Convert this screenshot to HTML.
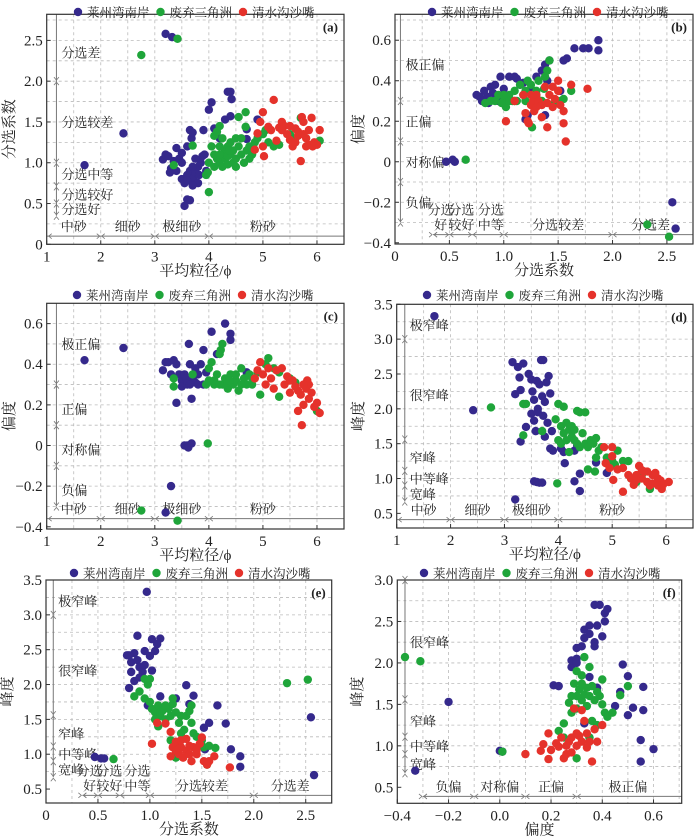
<!DOCTYPE html>
<html><head><meta charset="utf-8"><style>
html,body{margin:0;padding:0;background:#fff;}
svg{display:block;}
text{font-family:"Liberation Serif","Noto Serif CJK SC",serif;fill:#222;}
</style></head><body>
<svg id="fig" width="700" height="840" viewBox="0 0 700 840" xmlns="http://www.w3.org/2000/svg"></svg>
<script>
// ---- data (x,y pairs) ----
const aBlue=[[1.7,0.97],[2.42,1.36],[3.2,2.58],[3.32,2.54],[3.15,1.04],[3.2,1.1],[3.25,1.08],[3.28,0.88],[3.3,0.93],[3.35,1.02],[3.4,1.18],[3.45,1.05],[3.5,1.12],[3.5,0.8],[3.55,0.75],[3.55,0.47],[3.6,0.55],[3.65,0.54],[3.6,0.85],[3.65,0.9],[3.7,0.78],[3.72,0.82],[3.75,0.88],[3.65,1.4],[3.68,1.3],[3.7,1.37],[3.8,0.95],[3.82,0.85],[3.85,1.0],[3.88,1.08],[3.9,1.4],[3.92,1.1],[3.75,1.05],[3.6,1.2],[3.95,0.9],[4.0,1.65],[4.05,1.74],[4.1,1.42],[4.2,1.3],[4.3,1.53],[4.35,1.87],[4.4,1.87],[4.42,1.78],[4.4,1.57],[4.7,1.41],[4.9,1.53],[4.7,1.29],[3.4,0.9],[3.5,1.0],[3.7,0.95],[3.8,0.75],[3.6,0.78],[3.7,0.72]];
const aGreen=[[2.75,2.32],[3.42,2.52],[3.35,0.97],[3.7,1.21],[3.95,0.85],[3.98,0.88],[4.0,0.64],[4.0,1.0],[4.05,1.2],[4.1,1.33],[4.15,1.38],[4.2,1.45],[4.1,1.1],[4.2,1.0],[4.25,0.95],[4.3,1.15],[4.3,1.05],[4.35,1.2],[4.4,1.1],[4.45,1.0],[4.5,1.3],[4.45,1.15],[4.5,1.05],[4.55,1.2],[4.6,1.1],[4.65,1.0],[4.55,1.56],[4.68,1.62],[4.68,1.44],[4.7,1.15],[4.75,1.2],[4.8,1.1],[4.85,1.25],[4.9,1.3],[5.0,1.35],[5.05,1.4],[5.1,1.25],[5.2,1.2],[5.3,1.22],[5.5,1.35],[5.6,1.3],[5.7,1.55],[6.05,1.27],[4.2,1.2],[4.35,0.98],[4.25,1.3],[4.1,0.95],[4.4,1.25],[4.6,1.3],[4.3,1.1],[4.15,1.05],[4.5,0.95],[4.75,1.05],[4.2,1.1],[4.35,1.08],[4.38,1.15]];
const aRed=[[4.85,1.16],[4.9,1.36],[4.95,1.5],[5.0,1.62],[5.0,1.2],[5.02,1.08],[5.1,1.44],[5.15,1.4],[5.2,1.77],[5.25,1.27],[5.3,1.43],[5.35,1.5],[5.4,1.45],[5.45,1.35],[5.5,1.28],[5.55,1.2],[5.6,1.42],[5.65,1.33],[5.7,1.02],[5.72,1.56],[5.75,1.5],[5.8,1.3],[5.85,1.22],[5.9,1.55],[5.92,1.2],[5.95,1.25],[6.0,1.22],[6.05,1.4],[5.5,1.45],[5.35,1.4],[5.6,1.25],[5.75,1.35],[5.85,1.4],[5.65,1.38],[5.8,1.2]];
const bBlue=[[0.47,0],[0.53,0.01],[0.55,0],[0.75,0.33],[0.8,0.3],[0.82,0.35],[0.85,0.32],[0.88,0.37],[0.9,0.34],[0.92,0.38],[0.95,0.3],[0.97,0.42],[1.0,0.36],[1.05,0.42],[1.1,0.42],[1.12,0.41],[1.18,0.39],[1.2,0.21],[1.22,0.23],[1.3,0.42],[1.35,0.45],[1.38,0.48],[1.42,0.5],[1.38,0.23],[1.4,0.4],[1.52,0.35],[1.55,0.5],[1.58,0.51],[1.65,0.56],[1.73,0.56],[1.78,0.56],[1.87,0.6],[1.87,0.55],[2.55,-0.2],[2.58,-0.33],[0.78,0.32],[0.86,0.29],[0.93,0.31],[1.15,0.38],[1.25,0.36]];
const bGreen=[[0.65,0.01],[0.83,0.29],[0.88,0.3],[0.92,0.3],[0.95,0.33],[1.0,0.3],[1.02,0.27],[1.05,0.33],[1.08,0.3],[1.1,0.35],[1.12,0.3],[1.15,0.38],[1.18,0.33],[1.2,0.35],[1.22,0.4],[1.25,0.38],[1.28,0.3],[1.3,0.35],[1.32,0.4],[1.35,0.3],[1.38,0.42],[1.4,0.45],[1.42,0.5],[1.45,0.28],[1.5,0.3],[1.55,0.31],[1.62,0.35],[1.26,0.17],[2.32,-0.31],[2.52,-0.37],[1.0,0.33],[1.1,0.3],[1.2,0.3],[1.3,0.32],[1.37,0.36],[1.05,0.3],[0.98,0.29]];
const bRed=[[1.02,0.2],[1.1,0.3],[1.18,0.33],[1.2,0.24],[1.22,0.2],[1.23,0.19],[1.25,0.28],[1.27,0.3],[1.28,0.25],[1.3,0.33],[1.32,0.3],[1.35,0.22],[1.35,0.28],[1.38,0.37],[1.4,0.17],[1.42,0.33],[1.45,0.37],[1.47,0.31],[1.5,0.4],[1.5,0.35],[1.52,0.28],[1.55,0.25],[1.55,0.19],[1.57,0.1],[1.62,0.38],[1.77,0.36],[1.25,0.33],[1.4,0.29],[1.45,0.27],[1.3,0.27]];
const cBlue=[[1.7,0.42],[2.42,0.48],[3.3,-0.2],[3.2,-0.33],[3.15,0.37],[3.2,0.41],[3.25,0.41],[3.3,0.35],[3.35,0.42],[3.4,0.4],[3.4,0.21],[3.45,0.35],[3.5,0.32],[3.5,0.29],[3.55,0.35],[3.55,0],[3.6,0],[3.62,-0.01],[3.68,0.01],[3.6,0.3],[3.63,0.5],[3.65,0.4],[3.68,0.23],[3.7,0.33],[3.75,0.31],[3.8,0.35],[3.85,0.4],[3.9,0.47],[3.9,0.3],[3.95,0.36],[4.05,0.56],[4.15,0.45],[4.3,0.6],[4.4,0.55],[4.4,0.52],[4.7,0.36],[3.75,0.38],[3.58,0.33],[3.65,0.3],[3.8,0.3]];
const cGreen=[[2.75,-0.32],[3.35,0.33],[3.35,0.29],[3.42,-0.37],[3.7,0.35],[3.98,0.01],[3.95,0.3],[4.0,0.38],[4.05,0.41],[4.1,0.32],[4.15,0.35],[4.2,0.45],[4.22,0.47],[4.25,0.5],[4.25,0.3],[4.3,0.33],[4.35,0.28],[4.4,0.35],[4.45,0.3],[4.5,0.32],[4.55,0.27],[4.6,0.38],[4.65,0.33],[4.7,0.3],[4.75,0.35],[4.8,0.33],[4.9,0.36],[4.95,0.25],[5.05,0.4],[5.1,0.43],[5.2,0.38],[5.3,0.36],[5.3,0.24],[5.5,0.33],[5.6,0.31],[6.0,0.17],[4.1,0.3],[4.3,0.3],[4.5,0.35],[4.6,0.3],[4.0,0.32],[4.2,0.3],[4.38,0.32],[4.8,0.3]];
const cRed=[[4.85,0.33],[4.9,0.37],[4.95,0.41],[5.0,0.35],[5.05,0.3],[5.1,0.38],[5.15,0.33],[5.2,0.28],[5.25,0.37],[5.35,0.38],[5.4,0.3],[5.45,0.34],[5.5,0.26],[5.55,0.32],[5.6,0.29],[5.65,0.17],[5.7,0.25],[5.72,0.1],[5.75,0.2],[5.8,0.28],[5.82,0.32],[5.85,0.3],[5.85,0.23],[5.9,0.26],[5.95,0.19],[6.0,0.21],[6.05,0.16],[5.5,0.32],[5.65,0.27],[5.75,0.3]];
const dBlue=[[1.7,3.33],[2.42,1.98],[3.15,2.67],[3.25,2.6],[3.28,2.45],[3.35,2.65],[3.2,2.21],[3.3,2.27],[3.3,1.53],[3.4,1.74],[3.45,2.5],[3.5,2.42],[3.52,2.25],[3.55,2.13],[3.5,1.93],[3.55,1.83],[3.58,1.68],[3.6,2.4],[3.62,2.0],[3.65,2.35],[3.68,2.7],[3.72,2.7],[3.7,2.18],[3.72,1.9],[3.75,2.1],[3.78,2.38],[3.8,1.8],[3.82,2.47],[3.85,2.22],[3.88,1.68],[3.85,1.43],[3.9,1.4],[4.05,1.43],[4.1,1.38],[4.12,1.22],[4.3,1.4],[4.35,1.47],[3.55,0.96],[3.6,0.95],[3.65,0.94],[3.7,0.94],[3.2,0.7],[4.3,0.96],[4.4,1.07],[4.4,0.82],[4.7,1.23],[4.9,1.08],[3.62,1.95],[3.75,1.6]];
const dGreen=[[2.75,2.02],[3.35,2.07],[3.4,2.07],[3.35,1.62],[3.7,1.68],[3.98,0.93],[3.95,1.85],[4.0,2.07],[4.05,1.75],[4.1,2.03],[4.0,1.55],[4.05,1.5],[4.1,1.65],[4.15,1.8],[4.2,1.7],[4.2,1.38],[4.25,1.6],[4.3,1.55],[4.35,1.5],[4.35,1.97],[4.4,1.95],[4.5,1.95],[4.45,1.65],[4.5,1.5],[4.55,1.45],[4.6,1.55],[4.65,1.5],[4.7,1.58],[4.7,1.3],[4.75,1.4],[4.55,1.13],[4.68,1.1],[4.9,1.3],[5.0,1.25],[5.05,1.2],[5.1,1.4],[5.2,1.25],[5.3,1.25],[5.35,1.0],[5.45,0.95],[5.55,1.05],[5.7,0.85],[4.25,1.75],[4.15,1.55],[4.4,1.45],[4.8,1.45],[4.3,1.7]];
const dRed=[[4.85,1.45],[4.88,1.22],[4.95,1.15],[5.0,1.45],[5.0,1.32],[5.02,0.98],[5.1,1.13],[5.2,1.15],[5.2,0.81],[5.3,1.05],[5.35,1.0],[5.4,0.91],[5.45,1.05],[5.5,1.18],[5.55,1.0],[5.6,1.1],[5.65,0.95],[5.7,0.9],[5.75,1.05],[5.8,1.08],[5.85,1.0],[5.9,0.97],[5.92,0.85],[5.95,0.92],[6.05,0.95],[5.65,1.1],[5.75,0.93],[5.55,1.12],[5.85,0.9],[5.45,0.98]];
const eBlue=[[0.47,0.96],[0.53,0.94],[0.56,0.94],[0.97,3.33],[0.88,2.7],[1.02,2.65],[1.1,2.66],[1.07,2.58],[1.05,2.48],[1.0,2.41],[0.95,2.48],[0.85,2.45],[0.8,2.42],[0.78,2.42],[0.82,2.32],[0.88,2.35],[0.9,2.25],[0.93,2.18],[0.95,2.28],[0.82,2.18],[0.85,2.05],[0.8,1.95],[0.9,2.1],[1.02,2.2],[0.98,1.7],[1.1,1.83],[1.25,1.8],[1.35,1.99],[1.38,1.72],[1.42,1.84],[1.52,1.38],[1.57,1.45],[1.65,1.7],[1.73,1.44],[1.78,1.07],[1.87,0.97],[1.87,0.82],[2.55,1.53],[2.58,0.7],[1.53,1.07]];
const eGreen=[[0.65,0.93],[0.85,1.83],[0.9,1.9],[0.95,2.08],[0.98,2.0],[1.0,2.08],[0.95,1.8],[1.0,1.75],[1.02,1.65],[1.05,1.6],[1.08,1.7],[1.1,1.55],[1.12,1.62],[1.15,1.5],[1.18,1.65],[1.2,1.55],[1.22,1.72],[1.25,1.6],[1.22,1.8],[1.28,1.45],[1.3,1.3],[1.33,1.35],[1.35,1.55],[1.38,1.62],[1.4,1.7],[1.42,1.3],[1.45,1.25],[1.5,1.2],[1.52,1.1],[1.55,0.85],[1.57,1.12],[1.63,1.09],[1.08,1.4],[1.2,1.2],[1.25,0.95],[2.32,2.02],[2.52,2.07],[1.1,1.6],[1.15,1.7],[1.3,1.55],[1.05,1.5],[1.4,1.45]];
const eRed=[[1.02,1.15],[1.07,1.45],[1.15,1.44],[1.2,1.32],[1.2,0.97],[1.22,1.1],[1.25,1.05],[1.25,1.18],[1.28,1.0],[1.3,1.1],[1.32,0.95],[1.35,1.05],[1.35,1.22],[1.38,1.0],[1.4,0.9],[1.42,1.1],[1.45,1.0],[1.48,1.15],[1.5,1.24],[1.52,0.9],[1.55,0.85],[1.57,0.9],[1.62,0.97],[1.77,0.81],[1.45,1.06],[1.3,1.2],[1.38,1.12],[1.28,1.08]];
const fBlue=[[-0.33,0.7],[-0.2,1.53],[0,0.94],[0.01,0.93],[0.21,1.73],[0.23,1.72],[0.28,1.95],[0.28,2.03],[0.3,2.05],[0.3,2.18],[0.32,2.2],[0.33,2.3],[0.33,2.4],[0.35,2.45],[0.35,2.35],[0.37,2.25],[0.37,2.2],[0.38,2.45],[0.37,2.7],[0.39,2.7],[0.41,2.6],[0.42,2.65],[0.41,2.5],[0.4,2.32],[0.35,1.83],[0.38,1.7],[0.45,1.48],[0.47,1.65],[0.48,1.98],[0.5,1.84],[0.5,1.37],[0.52,1.46],[0.56,1.71],[0.56,1.43],[0.55,1.07],[0.55,0.81],[0.6,0.96],[0.33,1.27],[0.35,1.1],[0.3,2.0]];
const fGreen=[[-0.37,2.07],[-0.31,2.02],[0.01,0.93],[0.23,1.18],[0.25,1.27],[0.27,1.52],[0.28,1.4],[0.28,1.6],[0.29,1.75],[0.3,1.9],[0.3,1.45],[0.31,1.68],[0.32,1.55],[0.32,1.85],[0.33,1.62],[0.33,2.07],[0.34,1.7],[0.34,1.48],[0.35,1.6],[0.35,1.95],[0.36,1.3],[0.37,1.55],[0.38,1.65],[0.38,1.25],[0.39,1.6],[0.4,1.8],[0.41,1.4],[0.42,1.35],[0.44,1.4],[0.47,1.61],[0.5,1.72],[0.3,0.85],[0.35,1.1],[0.25,1.1],[0.4,1.5],[0.3,1.6],[0.32,1.75],[0.36,1.72]];
const fRed=[[0.1,0.9],[0.16,0.94],[0.17,1.02],[0.19,1.15],[0.19,0.84],[0.2,0.95],[0.22,1.03],[0.23,0.99],[0.24,1.1],[0.25,0.85],[0.26,0.9],[0.27,1.05],[0.28,0.92],[0.28,1.1],[0.29,1.45],[0.3,1.0],[0.31,1.12],[0.32,1.05],[0.32,1.43],[0.33,1.3],[0.34,0.98],[0.35,1.05],[0.36,0.81],[0.37,1.2],[0.38,1.05],[0.4,1.25],[0.3,1.15],[0.26,1.0],[0.34,1.15]];
const seriesNames=["莱州湾南岸","废弃三角洲","清水沟沙嘴"];
const meanTicks=[1,2,3,4,5,6];
const sortTicks=[0,0.5,1.0,1.5,2.0,2.5];
const sortTickLabels=["0","0.5","1.0","1.5","2.0","2.5"];
const skewYTicks=[-0.4,-0.2,0,0.2,0.4,0.6];
const skewYLabels=["−0.4","−0.2","0","0.2","0.4","0.6"];
const kurtTicks=[0.5,1.0,1.5,2.0,2.5,3.0,3.5];
const kurtLabels=["0.5","1.0","1.5","2.0","2.5","3.0","3.5"];
const sortYTicks=[0,0.5,1.0,1.5,2.0,2.5];
const skewXTicks=[-0.4,-0.2,0,0.2,0.4,0.6];
const skewXLabels=["−0.4","−0.2","0.0","0.2","0.4","0.6"];
// class boundaries
const sizeBounds=[2,3,4], sizeNames=["中砂","细砂","极细砂","粉砂"], sizeNameX=[1.5,2.5,3.5,5.0];
const sortBounds=[0.35,0.5,0.71,1.0,2.0];
const sortYBounds=[0.35,0.5,0.71,1.0,2.0];
const sortYNames=["分选好","分选较好","分选中等","分选较差","分选差"], sortYNamePos=[0.43,0.61,0.86,1.5,2.35];
const skewBounds=[-0.3,-0.1,0.1,0.3], skewNames=["负偏","对称偏","正偏","极正偏"];
const kurtBounds=[0.67,0.9,1.11,1.56,3.0], kurtNames=["宽峰","中等峰","窄峰","很窄峰","极窄峰"], kurtNamePos=[0.78,1.0,1.3,2.2,3.2];
const colors=["#35298c","#1fa53a","#e5322b"];

const NS="http://www.w3.org/2000/svg", svg=document.getElementById('fig');
function el(tag,attrs,parent){const e=document.createElementNS(NS,tag);for(const k in attrs)e.setAttribute(k,attrs[k]);(parent||svg).appendChild(e);return e;}
function txt(s,x,y,size,anchor,parent,name){const t=el('text',{x:x,y:y,'font-size':size,'text-anchor':anchor||'middle'},parent);t.textContent=s;


return t;}

function panel(cfg){
  const g=el('g',{});
  
  
  const X=v=>cfg.L+(v-cfg.x0)/(cfg.x1-cfg.x0)*(cfg.R-cfg.L);
  const Y=v=>cfg.B-(v-cfg.y0)/(cfg.y1-cfg.y0)*(cfg.B-cfg.T);
  for(let v=cfg.gx0;v<cfg.x1-1e-6;v+=cfg.gxs){const gl=el('line',{x1:X(v),x2:X(v),y1:cfg.T,y2:cfg.B,stroke:'#bbb','stroke-dasharray':'3,3','stroke-width':0.8},g);
    
    }
  for(let v=cfg.gy0;v<cfg.y1-1e-6;v+=cfg.gys){const gl=el('line',{x1:cfg.L,x2:cfg.R,y1:Y(v),y2:Y(v),stroke:'#bbb','stroke-dasharray':'3,3','stroke-width':0.8},g);
    
    }
  const va=cfg.vAnn, ax=X(va.x);
  const vl=el('line',{x1:ax,x2:ax,y1:Y(va.top),y2:Y(va.bounds[0]),stroke:'#777','stroke-width':1},g);
  
  
  va.bounds.forEach(b=>{const y=Y(b);el('path',{d:`M${ax-2.5},${y-4}L${ax},${y-1}L${ax+2.5},${y-4}M${ax-2.5},${y+4}L${ax},${y+1}L${ax+2.5},${y+4}`,stroke:'#777',fill:'none','stroke-width':0.8},g);});
  va.names.forEach((n,i)=>txt(n,ax+5,Y(va.pos[i])+5,13,'start',g,'class-label'));
  const ha=cfg.hAnn, ay=Y(ha.y);
  const hl=el('line',{x1:X(ha.from),x2:cfg.R,y1:ay,y2:ay,stroke:'#777','stroke-width':1},g);
  
  
  ha.bounds.forEach(b=>{const x=X(b);el('path',{d:`M${x-4},${ay-2.5}L${x-1},${ay}L${x-4},${ay+2.5}M${x+4},${ay-2.5}L${x+1},${ay}L${x+4},${ay+2.5}`,stroke:'#777',fill:'none','stroke-width':0.8},g);});
  {const x=X(ha.from)+(ha.from>cfg.x0?0:1);el('path',{d:`M${x+4},${ay-2.5}L${x+1},${ay}L${x+4},${ay+2.5}`,stroke:'#777',fill:'none','stroke-width':0.8},g);}
  ha.names.forEach((n,i)=>{
    const lines=n.split('|');
    lines.forEach((s,j)=>txt(s,X(ha.pos[i]),ay-5-(lines.length-1-j)*15,13,'middle',g,'class-label'));
  });
  cfg.series.forEach((s,si)=>s.forEach(p=>{const c=el('circle',{cx:X(p[0]),cy:Y(p[1]),r:4.2,fill:colors[si]},g);
    
    }));
  const fr=el('rect',{x:cfg.L,y:cfg.T,width:cfg.R-cfg.L,height:cfg.B-cfg.T,fill:'none',stroke:'#333','stroke-width':1.2},g);
  
  
  cfg.xt.forEach((v,i)=>{const x=X(v);el('line',{x1:x,x2:x,y1:cfg.B,y2:cfg.B-4,stroke:'#333'},g);txt(cfg.xtl[i],x,cfg.B+17,15,'middle',g,'x-tick-label');});
  cfg.yt.forEach((v,i)=>{const y=Y(v);el('line',{x1:cfg.L,x2:cfg.L+4,y1:y,y2:y,stroke:'#333'},g);txt(cfg.ytl[i],cfg.L-4,y+5,15,'end',g,'y-tick-label');});
  txt(cfg.xTitle,(cfg.L+cfg.R)/2,cfg.B+31,15,'middle',g,'x-axis-title');
  const yt=txt(cfg.yTitle,0,0,15,'middle',g,'y-axis-title');
  yt.setAttribute('transform',`translate(${cfg.ytx},${(cfg.T+cfg.B)/2}) rotate(-90)`);
  const pl=txt('('+cfg.id+')',cfg.R-6,cfg.T+17,13,'end',g,'panel-label');pl.setAttribute('font-weight','bold');
  const lg=el('g',{},g);
  
  
  const lx=cfg.legX, ly=cfg.legY;
  seriesNames.forEach((n,i)=>{const x=lx+i*82.5;el('circle',{cx:x,cy:ly,r:4.2,fill:colors[i]},lg);txt(n,x+9,ly+5,12.5,'start',lg,'legend-entry');});
}
const fmt=a=>a.map(v=>String(v));
panel({id:'a',L:46.7,R:344,T:14.3,B:244.3,x0:1,x1:6.5,y0:0,y1:2.82,gx0:1.5,gxs:0.5,gy0:0.25,gys:0.25,
  series:[aBlue,aGreen,aRed],xt:meanTicks,xtl:fmt(meanTicks),yt:sortYTicks,ytl:["0","0.5","1.0","1.5","2.0","2.5"],
  xTitle:"平均粒径/ϕ",yTitle:"分选系数",ytx:14,legX:78,legY:12,
  vAnn:{x:1.18,top:2.82,bounds:sortYBounds,names:sortYNames,pos:sortYNamePos},
  hAnn:{y:0.1,from:1,bounds:sizeBounds,names:sizeNames,pos:sizeNameX}});
panel({id:'b',L:395,R:693,T:14.3,B:244,x0:0,x1:2.74,y0:-0.406,y1:0.728,gx0:0.25,gxs:0.25,gy0:-0.3,gys:0.1,
  series:[bBlue,bGreen,bRed],xt:sortTicks,xtl:sortTickLabels,yt:skewYTicks,ytl:skewYLabels,
  xTitle:"分选系数",yTitle:"偏度",ytx:363,legX:432,legY:12,
  vAnn:{x:0.05,top:0.728,bounds:skewBounds,names:skewNames,pos:[-0.2,0,0.2,0.48]},
  hAnn:{y:-0.36,from:0.35,bounds:sortBounds,names:["分选|好","分选|较好","分选|中等","分选较差","分选差"],pos:[0.42,0.61,0.88,1.5,2.35]}});
panel({id:'c',L:46.7,R:344,T:303.3,B:529,x0:1,x1:6.5,y0:-0.411,y1:0.70,gx0:1.5,gxs:0.5,gy0:-0.3,gys:0.1,
  series:[cBlue,cGreen,cRed],xt:meanTicks,xtl:fmt(meanTicks),yt:skewYTicks,ytl:skewYLabels,
  xTitle:"平均粒径/ϕ",yTitle:"偏度",ytx:14,legX:77,legY:295,
  vAnn:{x:1.18,top:0.70,bounds:skewBounds,names:skewNames,pos:[-0.22,-0.02,0.18,0.5]},
  hAnn:{y:-0.36,from:1,bounds:sizeBounds,names:sizeNames,pos:sizeNameX}});
panel({id:'d',L:396.7,R:693,T:304.3,B:528,x0:1,x1:6.5,y0:0.29,y1:3.5,gx0:1.5,gxs:0.5,gy0:0.75,gys:0.25,
  series:[dBlue,dGreen,dRed],xt:meanTicks,xtl:fmt(meanTicks),yt:kurtTicks,ytl:kurtLabels,
  xTitle:"平均粒径/ϕ",yTitle:"峰度",ytx:363,legX:427,legY:295,
  vAnn:{x:1.15,top:3.5,bounds:kurtBounds,names:kurtNames,pos:kurtNamePos},
  hAnn:{y:0.41,from:1,bounds:sizeBounds,names:sizeNames,pos:sizeNameX}});
panel({id:'e',L:46,R:331.7,T:580,B:803,x0:0,x1:2.75,y0:0.30,y1:3.5,gx0:0.25,gxs:0.25,gy0:0.75,gys:0.25,
  series:[eBlue,eGreen,eRed],xt:sortTicks,xtl:sortTickLabels,yt:kurtTicks,ytl:kurtLabels,
  xTitle:"分选系数",yTitle:"峰度",ytx:12,legX:74,legY:573,
  vAnn:{x:0.07,top:3.5,bounds:kurtBounds,names:kurtNames,pos:kurtNamePos},
  hAnn:{y:0.41,from:0.35,bounds:sortBounds,names:["分选|好","分选|较好","分选|中等","分选较差","分选差"],pos:[0.42,0.61,0.88,1.5,2.35]}});
panel({id:'f',L:397.3,R:681.7,T:580,B:803.3,x0:-0.4,x1:0.71,y0:0.307,y1:3.0,gx0:-0.3,gxs:0.1,gy0:0.75,gys:0.25,
  series:[fBlue,fGreen,fRed],xt:skewXTicks,xtl:skewXLabels,yt:[0.5,1.0,1.5,2.0,2.5,3.0],ytl:["0.5","1.0","1.5","2.0","2.5","3.0"],
  xTitle:"偏度",yTitle:"峰度",ytx:362,legX:424,legY:573,
  vAnn:{x:-0.37,top:3.0,bounds:kurtBounds,names:["宽峰","中等峰","窄峰","很窄峰",""],pos:[0.78,1.0,1.3,2.25,2.9]},
  hAnn:{y:0.39,from:-0.3,bounds:skewBounds,names:skewNames,pos:[-0.2,0,0.2,0.5]}});
</script>
</body></html>
